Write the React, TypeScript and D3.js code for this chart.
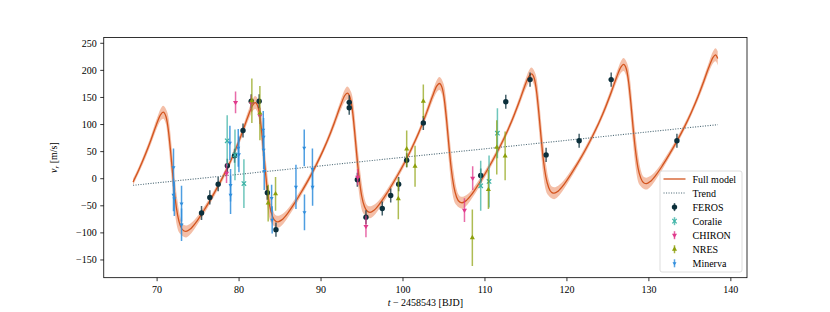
import React from "react";
import * as d3 from "d3";

const W = 830;
const H = 312;
const FONT = "'Liberation Serif', 'DejaVu Serif', serif";

// full model (median) and half width of the credible band
const modelT = [
  67.06, 67.76, 68.56, 69.28, 69.9, 70.43,
  70.73, 71.09, 71.37, 71.64, 71.91, 72.19, 72.5, 72.84, 73.24, 73.52, 74.0, 74.72, 75.51, 76.37, 77.25, 78.14, 79.0, 79.79, 80.51, 81.13, 81.67,
  81.96, 82.32, 82.6, 82.87, 83.14, 83.42, 83.73, 84.08, 84.47, 84.75, 85.23, 85.95, 86.75, 87.6, 88.49, 89.37, 90.23, 91.03, 91.74, 92.37, 92.9,
  93.2, 93.55, 93.84, 94.1, 94.37, 94.66, 94.96, 95.31, 95.7, 95.98, 96.47, 97.18, 97.98, 98.83, 99.72, 100.61, 101.46, 102.26, 102.97, 103.6, 104.13,
  104.43, 104.79, 105.07, 105.34, 105.61, 105.89, 106.2, 106.54, 106.94, 107.22, 107.7, 108.42, 109.21, 110.07, 110.95, 111.84, 112.7, 113.49, 114.21, 114.83, 115.36,
  115.66, 116.02, 116.3, 116.57, 116.84, 117.12, 117.43, 117.78, 118.17, 118.45, 118.93, 119.65, 120.44, 121.3, 122.19, 123.07, 123.93, 124.72, 125.44, 126.06, 126.6,
  126.9, 127.25, 127.53, 127.8, 128.07, 128.36, 128.66, 129.01, 129.4, 129.68, 130.17, 130.88, 131.68, 132.53, 133.42, 134.31, 135.16, 135.96, 136.67, 137.3, 137.83,
  138.13, 138.4,
];
const modelV = [
  -6.2, 16.1, 44.5, 72.9, 99.3, 118.3,
  122.9, 114.3, 90.0, 51.7, 6.9, -35.0, -67.2, -87.1, -96.1, -97.3, -93.4, -81.1, -63.3, -42.3, -18.8, 6.6, 33.7, 62.1, 90.5, 116.9, 135.9,
  140.5, 132.0, 107.6, 69.3, 24.6, -17.4, -49.5, -69.5, -78.5, -79.6, -75.8, -63.4, -45.7, -24.6, -1.2, 24.2, 51.4, 79.7, 108.2, 134.5, 153.6,
  158.1, 149.6, 125.2, 87.0, 42.2, 0.2, -31.9, -51.8, -60.8, -62.0, -58.1, -45.8, -28.1, -7.0, 16.5, 41.9, 69.0, 97.4, 125.8, 152.2, 171.2,
  175.8, 167.2, 142.9, 104.6, 59.8, 17.9, -14.2, -34.2, -43.2, -44.4, -40.5, -28.2, -10.4, 10.6, 34.1, 59.5, 86.7, 115.0, 143.4, 169.8, 188.8,
  193.4, 184.9, 160.5, 122.2, 77.5, 35.5, 3.4, -16.6, -25.6, -26.7, -22.9, -10.5, 7.2, 28.3, 51.7, 77.1, 104.3, 132.6, 161.1, 187.4, 206.5,
  211.0, 202.5, 178.1, 139.9, 95.1, 53.1, 21.0, 1.1, -7.9, -9.1, -5.2, 7.1, 24.9, 45.9, 69.4, 94.8, 121.9, 150.3, 178.7, 205.1, 224.1,
  228.7, 222.1,
];
const modelErr = [
  6, 6, 7, 8, 9, 11,
  12, 14, 25, 30, 30, 30, 25, 15, 11, 11, 10, 8, 7, 6, 6, 6, 6, 7, 8, 9, 11,
  12, 14, 25, 30, 30, 30, 25, 15, 11, 11, 10, 8, 7, 6, 6, 6, 6, 7, 8, 9, 11,
  12, 14, 25, 30, 30, 30, 25, 15, 11, 11, 10, 8, 7, 6, 6, 6, 6, 7, 8, 9, 11,
  12, 14, 25, 30, 30, 30, 25, 15, 11, 11, 10, 8, 7, 6, 6, 6, 6, 7, 8, 9, 11,
  12, 14, 25, 30, 30, 30, 25, 15, 11, 11, 10, 8, 7, 6, 6, 6, 6, 7, 8, 9, 11,
  12, 14, 25, 30, 30, 30, 25, 15, 11, 11, 10, 8, 7, 6, 6, 6, 6, 7, 8, 9, 11,
  12, 13,
];

const trendT = [67.06, 138.4];
const trendV = [-12.2, 99.8];

const ferosT = [75.42, 76.43, 77.45, 78.57, 79.45, 80.48, 81.48, 82.45, 83.45, 84.5, 93.44, 93.44, 94.43, 95.48, 97.47, 98.5, 99.47, 100.45, 102.48, 109.48, 112.54, 115.5, 117.46, 121.49, 125.4, 133.42];
const ferosV = [-63.4, -34.5, -10, 24, 42.5, 89, 143, 143, -26, -94, 141, 131, -2, -71, -55, -31, -10, 34, 103, 6, 142, 183, 44, 70, 183, 70];
const ferosE = [13, 13, 13, 13, 13, 13, 13, 13, 13, 13, 13, 13, 13, 13, 13, 13, 13, 13, 13, 13, 13, 13, 13, 13, 13, 13];

const coralieT = [78.55, 79.5, 80.59, 109.48, 110.5, 111.52];
const coralieV = [70, 44, -9, -13, -5, 84];
const coralieE = [47, 47, 45, 46, 48, 46];

const chironT = [78.47, 79.57, 81.5, 82.54, 94.47, 95.48, 107.5, 108.5];
const chironV = [10, 141, 139, 116, 3, -88, -58, 1];
const chironE = [18, 20, 15, 15, 15, 20, 22, 22];

const nresT = [81.56, 82.54, 83.55, 84.45, 99.43, 100.45, 101.47, 102.48, 108.46, 110.42, 111.44, 112.46];
const nresV = [144, 121, -45, -28, -37, 55, 23, 143, -109, -20, 58, 42];
const nresE = [41, 50, 34, 31, 38, 34, 38, 31, 52, 36, 50, 45];

const minervaT = [72.0, 72.0, 72.1, 72.98, 72.98, 78.88, 78.96, 78.96, 79.9, 79.98, 82.95, 82.99, 83.0, 83.07, 83.97, 84.04, 86.94, 87.95, 87.98, 88.95, 88.97];
const minervaV = [21, -30, -37, -46, -85, 66, -12, -30, 57, 45, 90, 77, 53, 14, -36, -76, -15, 57, -62, 18, -15];
const minervaE = [35, 30, 32, 33, 30, 32, 30, 35, 35, 33, 35, 35, 35, 35, 25, 25, 41, 34, 33, 38, 35];

const xTicks = [70, 80, 90, 100, 110, 120, 130, 140];
const yTicks = [-150, -100, -50, 0, 50, 100, 150, 200, 250];

const COL = {
  model: "#d3541e",
  band: "#f4bfa8",
  trend: "#55707c",
  feros: "#0b2f3b",
  coralie: "#3db3a6",
  chiron: "#e03a8c",
  nres: "#8c9f0a",
  minerva: "#2f8ddc",
};

const plot = { left: 103.75, right: 747, top: 37.44, bottom: 277.68 };
const x = d3.scaleLinear().domain([63.49, 141.97]).range([plot.left, plot.right]);
const y = d3.scaleLinear().domain([-182.7, 260.8]).range([plot.bottom, plot.top]);

type Kind = "circle" | "x" | "down" | "up" | "downSmall";

function Marker({ kind, cx, cy, color }: { kind: Kind; cx: number; cy: number; color: string }) {
  if (kind === "circle") return <circle cx={cx} cy={cy} r={2.7} fill={color} />;
  if (kind === "x") {
    const s = 2.2;
    return (
      <g stroke={color} strokeWidth={1.2}>
        <line x1={cx - s} y1={cy - s} x2={cx + s} y2={cy + s} />
        <line x1={cx - s} y1={cy + s} x2={cx + s} y2={cy - s} />
      </g>
    );
  }
  const size = kind === "downSmall" ? 7 : 11;
  const p = d3.symbol(d3.symbolTriangle, size)() || "";
  const rot = kind === "up" ? 0 : 180;
  return <path d={p} transform={`translate(${cx},${cy}) rotate(${rot})`} fill={color} />;
}

function Series({ t, v, e, color, kind, barOpacity }: { t: number[]; v: number[]; e: number[]; color: string; kind: Kind; barOpacity: number }) {
  return (
    <g>
      {t.map((ti, i) => (
        <line key={"b" + i} x1={x(ti)} x2={x(ti)} y1={y(v[i] - e[i])} y2={y(v[i] + e[i])} stroke={color} strokeWidth={1.5} strokeOpacity={barOpacity} />
      ))}
      {t.map((ti, i) => (
        <Marker key={"m" + i} kind={kind} cx={x(ti)} cy={y(v[i])} color={color} />
      ))}
    </g>
  );
}

const legendItems: { label: string; type: "line" | "dot" | "err"; color: string; kind?: Kind }[] = [
  { label: "Full model", type: "line", color: COL.model },
  { label: "Trend", type: "dot", color: COL.trend },
  { label: "FEROS", type: "err", color: COL.feros, kind: "circle" },
  { label: "Coralie", type: "err", color: COL.coralie, kind: "x" },
  { label: "CHIRON", type: "err", color: COL.chiron, kind: "down" },
  { label: "NRES", type: "err", color: COL.nres, kind: "up" },
  { label: "Minerva", type: "err", color: COL.minerva, kind: "downSmall" },
];

export default function App() {
  const idx = modelT.map((_, i) => i);
  const line = d3
    .line<number>()
    .x((i) => x(modelT[i]))
    .y((i) => y(modelV[i]))
    .curve(d3.curveMonotoneX);
  const band = d3
    .area<number>()
    .x((i) => x(modelT[i]))
    .y0((i) => y(modelV[i] - modelErr[i]))
    .y1((i) => y(modelV[i] + modelErr[i]))
    .curve(d3.curveMonotoneX);

  const lx = 660;
  const ly = 171;
  const rowH = 14.05;

  return (
    <svg width={W} height={H} style={{ position: "absolute", left: 0, top: 0, background: "#fff" }} fontFamily={FONT}>
      <defs>
        <clipPath id="plotClip">
          <rect x={plot.left} y={plot.top} width={plot.right - plot.left} height={plot.bottom - plot.top} />
        </clipPath>
      </defs>

      <g clipPath="url(#plotClip)">
        <path d={band(idx) || ""} fill={COL.band} />
        <path d={line(idx) || ""} fill="none" stroke={COL.model} strokeWidth={1.3} />
        <line x1={x(trendT[0])} y1={y(trendV[0])} x2={x(trendT[1])} y2={y(trendV[1])} stroke={COL.trend} strokeWidth={1.1} strokeDasharray="1.1 1.4" />
        <Series t={ferosT} v={ferosV} e={ferosE} color={COL.feros} kind="circle" barOpacity={0.75} />
        <Series t={coralieT} v={coralieV} e={coralieE} color={COL.coralie} kind="x" barOpacity={0.75} />
        <Series t={chironT} v={chironV} e={chironE} color={COL.chiron} kind="down" barOpacity={0.75} />
        <Series t={nresT} v={nresV} e={nresE} color={COL.nres} kind="up" barOpacity={0.7} />
        <Series t={minervaT} v={minervaV} e={minervaE} color={COL.minerva} kind="downSmall" barOpacity={0.85} />
      </g>

      {/* frame */}
      <rect x={plot.left} y={plot.top} width={plot.right - plot.left} height={plot.bottom - plot.top} fill="none" stroke="#000" strokeWidth={0.8} />

      {/* x ticks */}
      {xTicks.map((t) => (
        <g key={"x" + t}>
          <line x1={x(t)} x2={x(t)} y1={plot.bottom} y2={plot.bottom + 3.5} stroke="#000" strokeWidth={0.8} />
          <text x={x(t)} y={plot.bottom + 15} textAnchor="middle" fontSize={10}>
            {t}
          </text>
        </g>
      ))}
      {/* y ticks */}
      {yTicks.map((t) => (
        <g key={"y" + t}>
          <line x1={plot.left - 3.5} x2={plot.left} y1={y(t)} y2={y(t)} stroke="#000" strokeWidth={0.8} />
          <text x={plot.left - 7} y={y(t) + 3.5} textAnchor="end" fontSize={10}>
            {t < 0 ? "\u2212" + Math.abs(t) : t}
          </text>
        </g>
      ))}

      {/* axis labels */}
      <text x={(plot.left + plot.right) / 2} y={306} textAnchor="middle" fontSize={10}>
        <tspan fontStyle="italic">t</tspan>
        <tspan> {"\u2212"} 2458543 [BJD]</tspan>
      </text>
      <text transform={`translate(57,${(plot.top + plot.bottom) / 2}) rotate(-90)`} textAnchor="middle" fontSize={10}>
        <tspan fontStyle="italic">v</tspan>
        <tspan fontStyle="italic" fontSize={7} dy={2}>r</tspan>
        <tspan dy={-2}> [m/s]</tspan>
      </text>

      {/* legend */}
      <rect x={lx} y={ly} width={82} height={101} rx={2} fill="#fff" fillOpacity={0.8} stroke="#d4d4d4" strokeWidth={0.8} />
      {legendItems.map((it, i) => {
        const cy = ly + 8 + i * rowH;
        return (
          <g key={it.label}>
            {it.type === "line" && <line x1={lx + 3.5} x2={lx + 25.5} y1={cy} y2={cy} stroke={it.color} strokeWidth={1.3} />}
            {it.type === "dot" && <line x1={lx + 3.5} x2={lx + 25.5} y1={cy} y2={cy} stroke={it.color} strokeWidth={1.1} strokeDasharray="1.1 1.4" />}
            {it.type === "err" && (
              <g>
                <line x1={lx + 14.5} x2={lx + 14.5} y1={cy - 4} y2={cy + 4} stroke={it.color} strokeWidth={1.5} strokeOpacity={0.8} />
                <Marker kind={it.kind as Kind} cx={lx + 14.5} cy={cy} color={it.color} />
              </g>
            )}
            <text x={lx + 32.5} y={cy + 3.5} fontSize={10}>
              {it.label}
            </text>
          </g>
        );
      })}
    </svg>
  );
}
